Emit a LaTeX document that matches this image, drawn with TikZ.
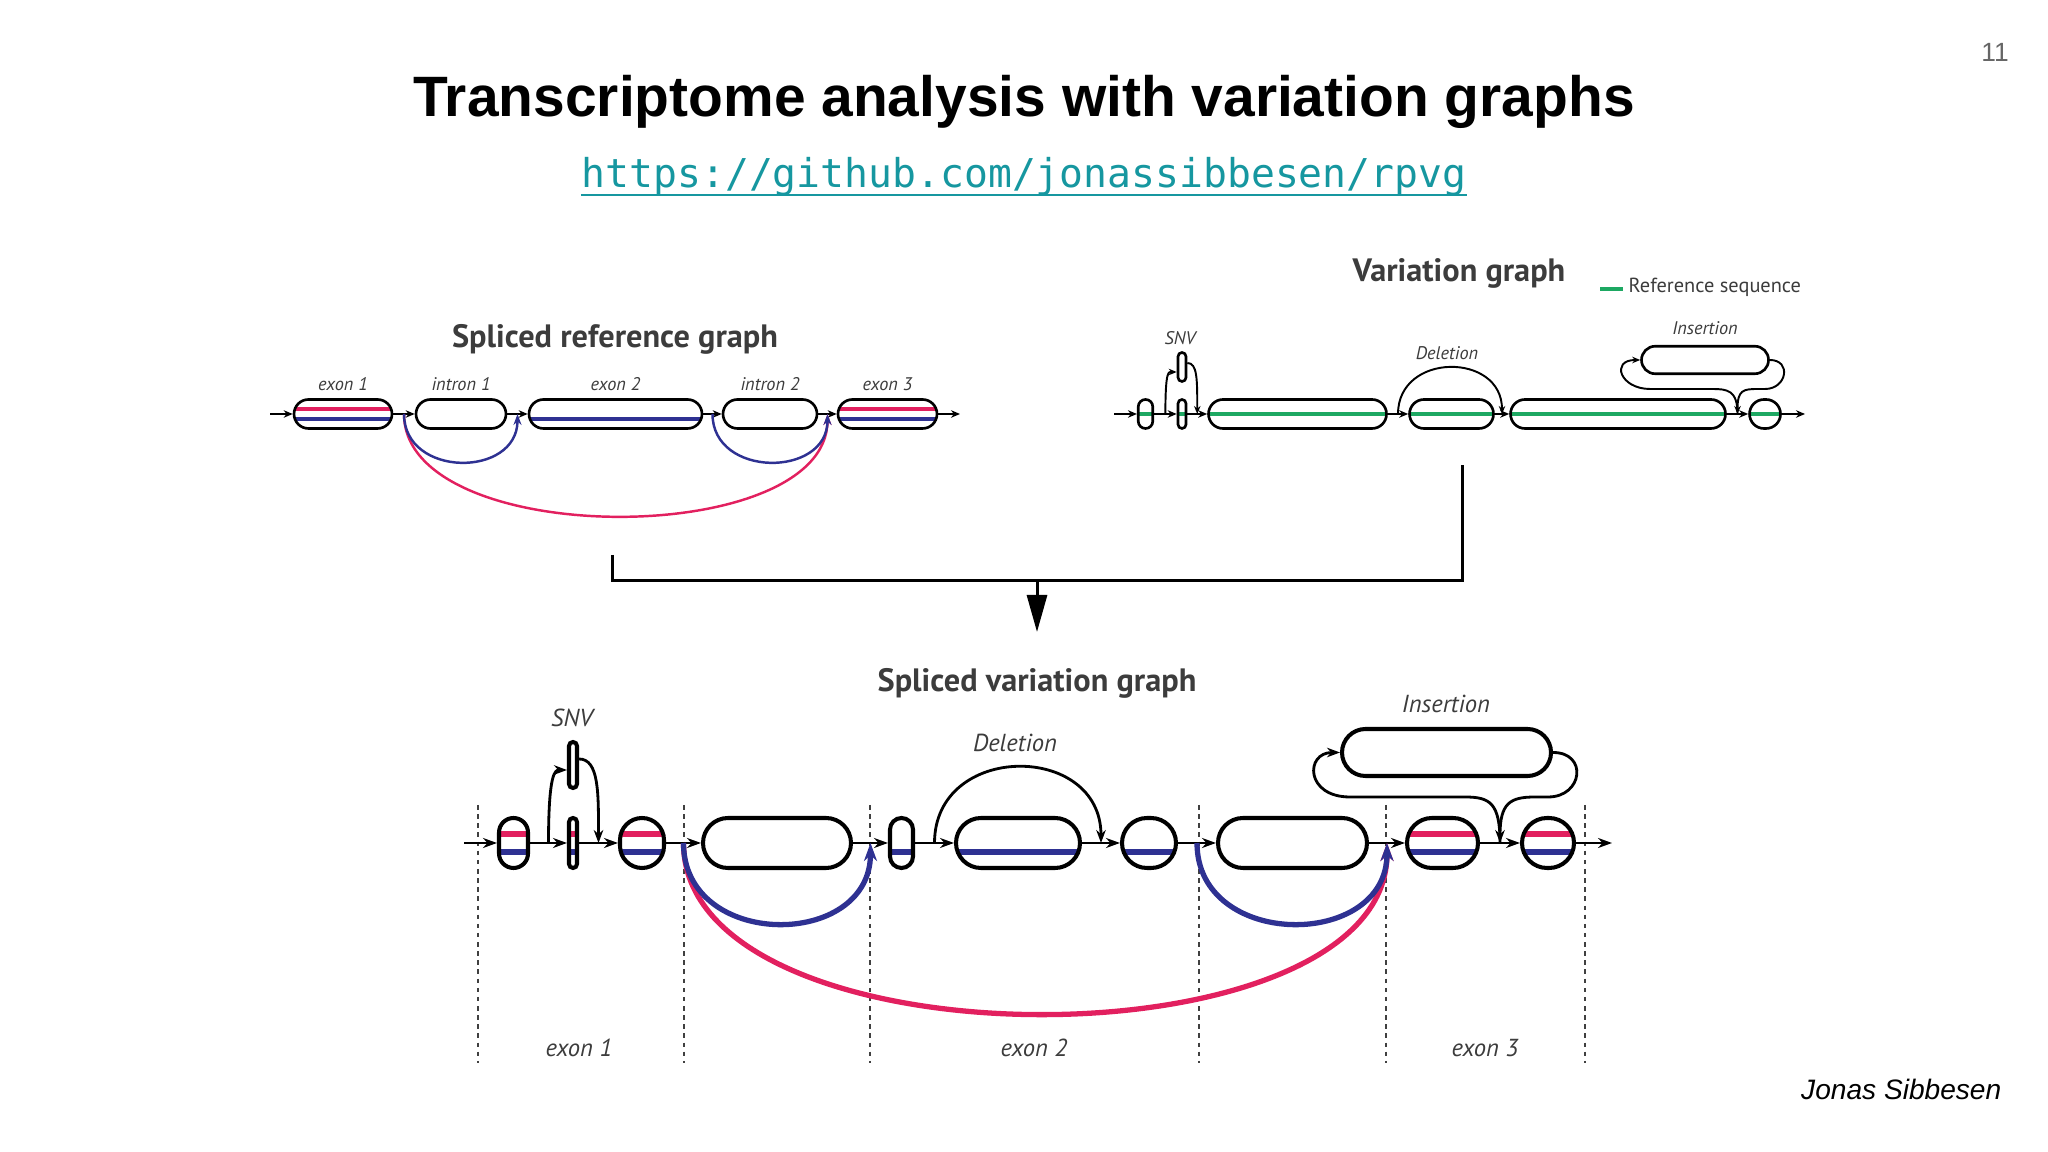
\documentclass[tikz,border=0pt]{standalone}
\usepackage{fontspec}
\setmainfont{Liberation Sans}
\newfontfamily\figfont{PT Sans}
\newfontfamily\codefont{DejaVu Sans Mono}
\usetikzlibrary{arrows.meta,calc}

\definecolor{exred}{HTML}{E2205F}
\definecolor{exblue}{HTML}{2E3192}
\definecolor{refgreen}{HTML}{1DA862}
\definecolor{linkteal}{HTML}{1697A0}
\definecolor{labgray}{HTML}{3C3C3C}

\begin{document}
\begin{tikzpicture}[x=0.1mm,y=-0.1mm,
	tnode/.style={draw, fill=white, line width=0.75pt, inner sep=0pt, minimum height=2.9mm, rounded corners=1.45mm},
	bnode/.style={draw, fill=white, line width=1.15pt, inner sep=0pt, minimum height=5mm, rounded corners=2.5mm},
	redblue/.style 2 args={path picture={
		\draw[exred, line width=#2] ([yshift=#1]path picture bounding box.west) -- ([yshift=#1]path picture bounding box.east);
		\draw[exblue, line width=#2] ([yshift=-#1]path picture bounding box.west) -- ([yshift=-#1]path picture bounding box.east);}},
	blueonly/.style 2 args={path picture={
		\draw[exblue, line width=#2] ([yshift=-#1]path picture bounding box.west) -- ([yshift=-#1]path picture bounding box.east);}},
	refline/.style={path picture={
		\draw[refgreen, line width=1.2pt] (path picture bounding box.west) -- (path picture bounding box.east);}},
	tseg/.style={line width=0.55pt, -{Stealth[length=0.9mm, width=0.75mm]}},
	bseg/.style={line width=0.85pt, -{Stealth[length=1.4mm, width=1mm]}},
	tarc/.style={line width=0.7pt, -{Stealth[length=1.1mm, width=0.8mm]}},
	barc/.style={line width=1.5pt, -{Stealth[length=1.8mm, width=1.3mm]}},
	tvar/.style={line width=0.55pt, -{Stealth[length=0.8mm, width=0.65mm]}},
	bvar/.style={line width=0.8pt, -{Stealth[length=1.3mm, width=0.95mm]}},
	tlab/.style={font=\figfont\itshape\fontsize{5.2}{6}\selectfont, text=labgray, anchor=base, inner sep=0pt},
	blab/.style={font=\figfont\itshape\fontsize{7}{8}\selectfont, text=labgray, anchor=base, inner sep=0pt},
	gtitle/.style={font=\figfont\bfseries\fontsize{9.2}{11}\selectfont, text=labgray, anchor=base, inner sep=0pt},
	cut/.style={line width=0.45pt, dash pattern=on 1.3pt off 1.3pt, black!75}]
	\useasboundingbox (0,0) rectangle (2048,1152);
	
	%slide texts
	\node[font=\bfseries\fontsize{16.2}{19}\selectfont, anchor=base, inner sep=0pt] (title) at (1024,117) {Transcriptome analysis with variation graphs};
	\node[font=\codefont\fontsize{11.3}{13}\selectfont, text=linkteal, anchor=base, inner sep=0pt] (url) at (1024,188) {https://github.com/jonassibbesen/rpvg};
	\draw[linkteal, line width=0.6pt] ([yshift=-2pt]url.base west) -- ([yshift=-2pt]url.base east);
	\node[font=\fontsize{7.5}{9}\selectfont, text=black!60, anchor=base, inner sep=0pt] (pagenum) at (1995,62) {11};
	\node[font=\itshape\fontsize{8}{10}\selectfont, anchor=base east, inner sep=0pt] (author) at (2002,1100) {Jonas Sibbesen};
	
	%spliced reference graph
	\node[gtitle] (reftitle) at (615,348) {Spliced reference graph};
	\coordinate (rin) at (270,414);
	\node[tnode, redblue={0.5mm}{1.1pt}, minimum width=9.8mm] (rex1) at (343,414) {};
	\node[tnode, minimum width=9mm] (rin1) at (461,414) {};
	\node[tnode, blueonly={0.5mm}{1.1pt}, minimum width=17.3mm] (rex2) at (615.5,414) {};
	\node[tnode, minimum width=9.4mm] (rin2) at (770,414) {};
	\node[tnode, redblue={0.5mm}{1.1pt}, minimum width=9.9mm] (rex3) at (887.5,414) {};
	\coordinate (rout) at (960,414);
	\foreach \a/\b in {rin/rex1, rex1/rin1, rin1/rex2, rex2/rin2, rin2/rex3, rex3/rout}
		\draw[tseg] (\a) -- (\b);
	\node[tlab] (lrex1) at (343,391) {exon 1};
	\node[tlab] (lrin1) at (461,391) {intron 1};
	\node[tlab] (lrex2) at (615.5,391) {exon 2};
	\node[tlab] (lrin2) at (770,391) {intron 2};
	\node[tlab] (lrex3) at (887.5,391) {exon 3};
	
	%reference splice junctions
	\coordinate (rj1) at ($(rex1.east)!.5!(rin1.west)$);
	\coordinate (rj2) at ($(rin1.east)!.5!(rex2.west)$);
	\coordinate (rj3) at ($(rex2.east)!.5!(rin2.west)$);
	\coordinate (rj4) at ($(rin2.east)!.5!(rex3.west)$);
	\draw[tarc, exred] (rj1) .. controls +(0,136) and +(0,136) .. (rj4);
	\draw[tarc, exblue] (rj1) .. controls +(0,64) and +(0,64) .. (rj2);
	\draw[tarc, exblue] (rj3) .. controls +(0,64) and +(0,64) .. (rj4);
	
	%variation graph
	\node[gtitle] (vartitle) at (1459,282) {Variation graph};
	\draw[refgreen, line width=1.3pt] (1600,289) -- (1623,289);
	\node[font=\figfont\fontsize{5.8}{7}\selectfont, text=labgray, anchor=base west, inner sep=0pt] (legend) at (1628,293) {Reference sequence};
	\coordinate (vin) at (1114,414);
	\node[tnode, refline, minimum width=1.45mm, rounded corners=0.72mm] (v1) at (1145.5,414) {};
	\node[tnode, refline, minimum width=0.8mm, rounded corners=0.4mm] (vs) at (1182,414) {};
	\node[tnode, minimum width=0.8mm, rounded corners=0.4mm] (vsu) at (1182,367) {};
	\node[tnode, refline, minimum width=17.8mm] (vA) at (1297.5,414) {};
	\node[tnode, refline, minimum width=8.4mm] (vB) at (1451.5,414) {};
	\node[tnode, refline, minimum width=21.5mm] (vC) at (1618,414) {};
	\node[tnode, refline, minimum width=3.1mm] (vD) at (1765,414) {};
	\node[tnode, minimum width=12.7mm, minimum height=2.75mm, rounded corners=1.37mm] (vins) at (1705,360) {};
	\coordinate (vout) at (1805,414);
	\foreach \a/\b in {vin/v1, v1/vs, vs/vA, vA/vB, vB/vC, vC/vD, vD/vout}
		\draw[tseg] (\a) -- (\b);
	\coordinate (vj0) at ($(v1.east)!.5!(vs.west)$);
	\coordinate (vj1) at ($(vs.east)!.5!(vA.west)$);
	\coordinate (vj2) at ($(vA.east)!.5!(vB.west)$);
	\coordinate (vj3) at ($(vB.east)!.5!(vC.west)$);
	\coordinate (vj4) at ($(vC.east)!.5!(vD.west)$);
	\draw[tvar] (vj0) .. controls +(0,-45) and +(-8,0) .. ([yshift=-0.5mm]vsu.west);
	\draw[tvar] ([yshift=0.4mm]vsu.east) .. controls +(10,0) and +(0,-35) .. (vj1);
	\draw[tvar] (vj2) .. controls +(0,-62) and +(0,-62) .. (vj3);
	\draw[tvar] (vj4) .. controls +(0,-24) and +(15,0) .. (1712,389) -- (1650,389) .. controls +(-30,0) and +(-30,0) .. (vins.west);
	\draw[tvar] (vins.east) .. controls +(22,0) and +(22,0) .. (1765,389) -- (1758,389) .. controls +(-15,0) and +(0,-24) .. (vj4);
	\node[tlab] (lsnv) at (1180,345) {SNV};
	\node[tlab] (ldel) at (1447,360) {Deletion};
	\node[tlab] (lins) at (1705,335) {Insertion};
	
	%merge arrow
	\coordinate (refout) at (612,555);
	\coordinate (varout) at (1462,465);
	\coordinate (merge) at (1037,581);
	\coordinate (svgin) at (1037,632);
	\draw[line width=0.85pt] (refout) |- (merge) -| (varout);
	\draw[line width=0.85pt, -{Triangle[length=3.7mm, width=2mm]}] (merge) -- (svgin);
	
	%spliced variation graph
	\node[gtitle] (svgtitle) at (1037,692) {Spliced variation graph};
	\foreach \x in {478,684,870,1199,1386,1585}
		\draw[cut] (\x,805) -- (\x,1063);
	\coordinate (bin) at (464,843);
	\node[bnode, redblue={0.9mm}{1.6pt}, minimum width=2.9mm, rounded corners=1.45mm] (b1) at (513.5,843) {};
	\node[bnode, redblue={0.9mm}{1.6pt}, minimum width=0.8mm, rounded corners=0.4mm] (bs) at (573,843) {};
	\node[bnode, minimum width=0.8mm, minimum height=4.6mm, rounded corners=0.4mm] (bsu) at (573,765) {};
	\node[bnode, redblue={0.9mm}{1.6pt}, minimum width=4.4mm, rounded corners=2.2mm] (b2) at (642,843) {};
	\node[bnode, minimum width=14.8mm] (bi1) at (777,843) {};
	\node[bnode, blueonly={0.9mm}{1.6pt}, minimum width=2.3mm, rounded corners=1.15mm] (b3) at (901.5,843) {};
	\node[bnode, blueonly={0.9mm}{1.6pt}, minimum width=12.4mm] (b4) at (1018,843) {};
	\node[bnode, blueonly={0.9mm}{1.6pt}, minimum width=5.4mm] (b5) at (1149,843) {};
	\node[bnode, minimum width=14.9mm] (bi2) at (1292.5,843) {};
	\node[bnode, redblue={0.9mm}{1.6pt}, minimum width=7.1mm] (b6) at (1442.5,843) {};
	\node[bnode, redblue={0.9mm}{1.6pt}, minimum width=5.2mm] (b7) at (1548,843) {};
	\node[bnode, minimum width=20.9mm, minimum height=4.7mm, rounded corners=2.35mm] (bins) at (1446.5,752.5) {};
	\coordinate (bout) at (1612,843);
	\foreach \a/\b in {bin/b1, b1/bs, bs/b2, b2/bi1, bi1/b3, b3/b4, b4/b5, b5/bi2, bi2/b6, b6/b7, b7/bout}
		\draw[bseg] (\a) -- (\b);
	\coordinate (bj0) at ($(b1.east)!.5!(bs.west)$);
	\coordinate (bj1) at ($(bs.east)!.5!(b2.west)$);
	\coordinate (bj2) at ($(b2.east)!.5!(bi1.west)$);
	\coordinate (bj3) at ($(bi1.east)!.5!(b3.west)$);
	\coordinate (bj4) at ($(b3.east)!.5!(b4.west)$);
	\coordinate (bj5) at ($(b4.east)!.5!(b5.west)$);
	\coordinate (bj6) at ($(b5.east)!.5!(bi2.west)$);
	\coordinate (bj7) at ($(bi2.east)!.5!(b6.west)$);
	\coordinate (bj8) at ($(b6.east)!.5!(b7.west)$);
	
	%variants
	\draw[bvar] (bj0) .. controls +(0,-70) and +(-12,0) .. ([yshift=-0.5mm]bsu.west);
	\draw[bvar] ([yshift=0.6mm]bsu.east) .. controls +(20,0) and +(0,-50) .. (bj1);
	\draw[bvar] (bj4) .. controls +(0,-101) and +(0,-101) .. (bj5);
	\draw[bvar] (bj8) .. controls +(0,-40) and +(25,0) .. (1465,797) -- (1350,797) .. controls +(-45,0) and +(-35,0) .. (bins.west);
	\draw[bvar] (bins.east) .. controls +(35,0) and +(35,0) .. (1548,797) -- (1535,797) .. controls +(-25,0) and +(0,-40) .. (bj8);
	
	%splice junctions
	\draw[barc, exred] (bj2) .. controls +(0,227) and +(0,227) .. (bj7);
	\draw[barc, exblue] (bj2) .. controls +(0,107) and +(0,107) .. (bj3);
	\draw[barc, exblue] (bj6) .. controls +(0,107) and +(0,107) .. (bj7);
	
	%labels
	\node[blab] (bsnv) at (572,727) {SNV};
	\node[blab] (bdel) at (1015,752) {Deletion};
	\node[blab] (bins-l) at (1446,713) {Insertion};
	\node[blab] (bex1) at (579,1057) {exon 1};
	\node[blab] (bex2) at (1034,1057) {exon 2};
	\node[blab] (bex3) at (1485,1057) {exon 3};
\end{tikzpicture}
\end{document}
